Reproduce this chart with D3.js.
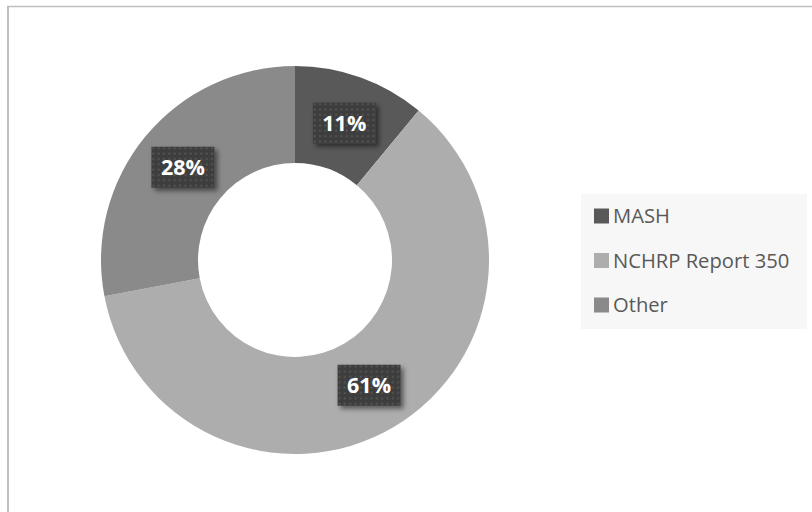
<!DOCTYPE html>
<html>
<head>
<meta charset="utf-8">
<script src="https://cdn.jsdelivr.net/npm/d3@7"></script>
<style>
  html, body { margin: 0; padding: 0; background: #ffffff; }
  svg { display: block; }
</style>
</head>
<body>
<svg id="chart" width="812" height="512"></svg>
<script>
// Share of crash-test criteria
const categories = ["MASH", "NCHRP Report 350", "Other"];
const values = [11, 61, 28];
const colors = ["#595959", "#adadad", "#8a8a8a"];

const svg = d3.select("#chart");
const defs = svg.append("defs");

// dotted fill for the value labels
const pat = defs.append("pattern")
  .attr("id", "dots")
  .attr("patternUnits", "userSpaceOnUse")
  .attr("width", 16 / 3).attr("height", 16 / 3);
pat.append("rect").attr("width", 16 / 3).attr("height", 16 / 3).attr("fill", "#3e3e3e");
pat.append("rect").attr("x", 1.5).attr("y", 1.5).attr("width", 1.8).attr("height", 1.8).attr("fill", "#585858");

const shadow = defs.append("filter").attr("id", "shadow")
  .attr("x", "-20%").attr("y", "-20%").attr("width", "150%").attr("height", "160%");
shadow.append("feDropShadow")
  .attr("dx", 3).attr("dy", 3).attr("stdDeviation", 2.5)
  .attr("flood-color", "#000").attr("flood-opacity", 0.5);

// chart frame
svg.append("line").attr("x1", 8).attr("y1", 6).attr("x2", 8).attr("y2", 512)
  .attr("stroke", "#bfbfbf").attr("stroke-width", 2);
svg.append("line").attr("x1", 7).attr("y1", 6.5).attr("x2", 812).attr("y2", 6.5)
  .attr("stroke", "#bfbfbf").attr("stroke-width", 1.5);

const cx = 295, cy = 260, outerR = 194, innerR = 97;

const pie = d3.pie().sort(null).value(d => d)(values);
const arc = d3.arc().innerRadius(innerR).outerRadius(outerR);
const labelArc = d3.arc().innerRadius((innerR + outerR) / 2).outerRadius((innerR + outerR) / 2);

const g = svg.append("g").attr("transform", `translate(${cx},${cy})`);

g.selectAll("path.slice")
  .data(pie)
  .join("path")
  .attr("class", "slice")
  .attr("d", arc)
  .attr("fill", (d, i) => colors[i]);

// value labels
const total = d3.sum(values);
const lab = g.selectAll("g.lab")
  .data(pie)
  .join("g")
  .attr("class", "lab")
  .attr("transform", d => `translate(${labelArc.centroid(d)})`);

lab.append("rect")
  .attr("x", -31.5).attr("y", -20.5)
  .attr("width", 63).attr("height", 41)
  .attr("fill", "url(#dots)")
  .attr("filter", "url(#shadow)");

lab.append("text")
  .attr("text-anchor", "middle")
  .attr("dy", "0.36em")
  .attr("fill", "#ffffff")
  .attr("font-family", "'Open Sans', sans-serif")
  .attr("font-weight", 700)
  .attr("font-size", 21.5)
  .text(d => Math.round(d.data / total * 100) + "%");

// legend
const legend = svg.append("g");
legend.append("rect")
  .attr("x", 581).attr("y", 194).attr("width", 226).attr("height", 135)
  .attr("fill", "#f7f7f7");

const rowY = d3.scalePoint().domain(categories).range([216, 305]);

const items = legend.selectAll("g.item")
  .data(categories)
  .join("g")
  .attr("class", "item")
  .attr("transform", d => `translate(0,${rowY(d)})`);

items.append("rect")
  .attr("x", 594).attr("y", -7.5)
  .attr("width", 15).attr("height", 15)
  .attr("fill", (d, i) => colors[i]);

items.append("text")
  .attr("x", 613)
  .attr("dy", "0.36em")
  .attr("fill", "#595959")
  .attr("font-family", "'Open Sans', sans-serif")
  .attr("font-size", 20.2)
  .text(d => d);
</script>
</body>
</html>
